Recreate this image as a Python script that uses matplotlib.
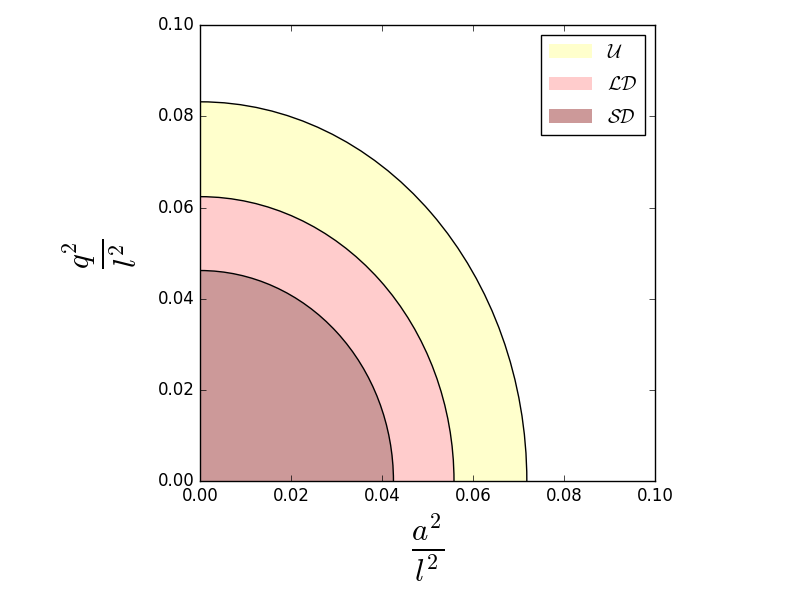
import matplotlib

matplotlib.use("Agg")
import matplotlib.pyplot as plt
from matplotlib.patches import Ellipse

plt.style.use("classic")
plt.rcParams["mathtext.fontset"] = "cm"

# semi-axes (outermost first)
region_labels = [r"$\mathcal{U}$", r"$\mathcal{LD}$", r"$\mathcal{SD}$"]
a2_extent = [0.0718, 0.0558, 0.0425]
q2_extent = [0.0832, 0.0624, 0.0462]
region_colors = ["#ffffcc", "#ffcccc", "#cc9999"]

x_ticks = [0.0, 0.02, 0.04, 0.06, 0.08, 0.10]
y_ticks = [0.0, 0.02, 0.04, 0.06, 0.08, 0.10]

fig = plt.figure(figsize=(8, 6), dpi=100, facecolor="white")
ax = fig.add_axes([0.25, 0.198, 0.569, 0.76])

for label, a, q, color in zip(region_labels, a2_extent, q2_extent, region_colors):
    ax.add_patch(Ellipse((0, 0), 2 * a, 2 * q, facecolor=color, edgecolor="none", label=label))
    ax.add_patch(Ellipse((0, 0), 2 * a, 2 * q, facecolor="none", edgecolor="black", lw=1.0))

ax.set_xlim(0, 0.1)
ax.set_ylim(0, 0.1)
ax.set_xticks(x_ticks)
ax.set_yticks(y_ticks)
ax.set_xticklabels([f"{t:.2f}" for t in x_ticks])
ax.set_yticklabels([f"{t:.2f}" for t in y_ticks])

ax.set_xlabel(r"$\frac{a^2}{l^2}$", fontsize=32)
ax.set_ylabel(r"$\frac{q^2}{l^2}$", fontsize=32, labelpad=14)

ax.legend(loc="upper right", fontsize=14, handlelength=2.2, labelspacing=0.7, fancybox=False)

fig.savefig("out.png", facecolor="white")
